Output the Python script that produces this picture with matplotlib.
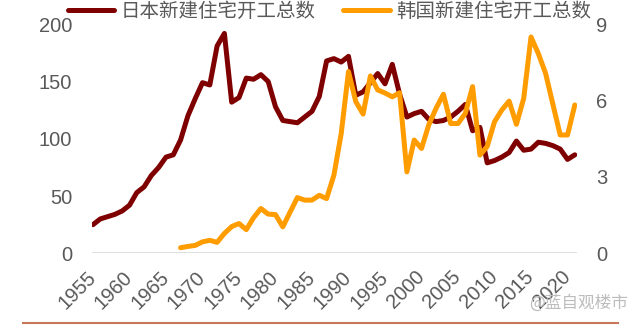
import numpy as np
import matplotlib
matplotlib.use("Agg")
import matplotlib.pyplot as plt
from matplotlib.lines import Line2D

plt.rcParams['font.family'] = ['Liberation Sans', 'Noto Sans CJK SC', 'DejaVu Sans']

# Japan housing starts (10k units), 1955-2021
japan_years = np.arange(1955, 2022)
japan_starts = [25, 30, 32, 34, 37, 42, 53, 58, 68, 75,
                84, 86, 99, 120, 135, 149, 147, 181, 192, 132,
                136, 153, 152, 156, 150, 128, 116, 115, 114, 119,
                124, 137, 168, 170, 167, 172, 138, 141, 149, 157,
                148, 165, 139, 119, 122, 124, 117, 115, 116, 119,
                124, 130, 107, 110, 79, 81, 84, 88, 98, 90,
                91, 97, 96, 94, 91, 82, 86]

# Korea housing starts (100k units), 1967-2021
korea_years = np.arange(1967, 2022)
korea_starts = [0.22, 0.27, 0.31, 0.45, 0.51, 0.43, 0.78, 1.05, 1.17, 0.93,
                1.4, 1.76, 1.54, 1.52, 1.04, 1.62, 2.19, 2.09, 2.09, 2.28,
                2.15, 3.07, 4.7, 7.14, 5.96, 5.47, 6.97, 6.42, 6.3, 6.15,
                6.31, 3.2, 4.45, 4.12, 5.05, 5.7, 6.25, 5.1, 5.1, 5.5,
                6.55, 3.86, 4.2, 5.17, 5.63, 5.98, 5.07, 6.09, 8.5, 7.85,
                7.07, 5.85, 4.65, 4.65, 5.83]

x_ticks = list(range(1955, 2021, 5))
left_ticks = [0, 50, 100, 150, 200]
right_ticks = [0, 3, 6, 9]

jp_color = '#7F0000'
kr_color = '#FF9C00'
txt_color = '#595959'

fig = plt.figure(figsize=(6.4, 3.26), dpi=100)
ax = fig.add_axes([0.143, 0.223, 0.758, 0.7025])
ax2 = ax.twinx()

l1, = ax.plot(japan_years, japan_starts, color=jp_color, lw=3.6,
              solid_joinstyle='round', solid_capstyle='round', label='日本新建住宅开工总数')
l2, = ax2.plot(korea_years, korea_starts, color=kr_color, lw=3.6,
               solid_joinstyle='round', solid_capstyle='round', label='韩国新建住宅开工总数')

ax.set_xlim(1954.8, 2021.25)
ax.set_ylim(0, 200)
ax2.set_ylim(0, 9)
ax.axhline(0, color='#D9D9D9', lw=1.2, zorder=0)

for a in (ax, ax2):
    for s in a.spines.values():
        s.set_visible(False)

ax.set_yticks(left_ticks)
ax2.set_yticks(right_ticks)
ax.set_xticks(x_ticks)
ax.set_xticklabels([str(y) for y in x_ticks], rotation=45, ha='right',
                   va='center', rotation_mode='anchor')
ax.tick_params(axis='x', length=0, pad=15, labelsize=14.5, labelcolor=txt_color)
ax.tick_params(axis='y', length=0, pad=14, labelsize=14.5, labelcolor=txt_color)
ax2.tick_params(axis='y', length=0, pad=14, labelsize=14.5, labelcolor=txt_color)

leg = fig.legend(handles=[l1, l2], loc='center', bbox_to_anchor=(0.515, 0.965),
                 ncol=2, frameon=False, handlelength=2.4, handletextpad=0.35,
                 columnspacing=1.4, prop={'family': ['Noto Sans CJK SC'], 'size': 14})
for t in leg.get_texts():
    t.set_color(txt_color)

fig.add_artist(Line2D([23 / 640, 618 / 640], [1 - 323 / 326] * 2,
                      color='#C8765A', lw=1.5))
fig.text(0.982, 0.07, '@蓝自观楼市', ha='right', va='center', fontsize=12,
         color='#BDBDBD', family=['Noto Sans CJK SC'])

fig.savefig('out.png', dpi=100)
